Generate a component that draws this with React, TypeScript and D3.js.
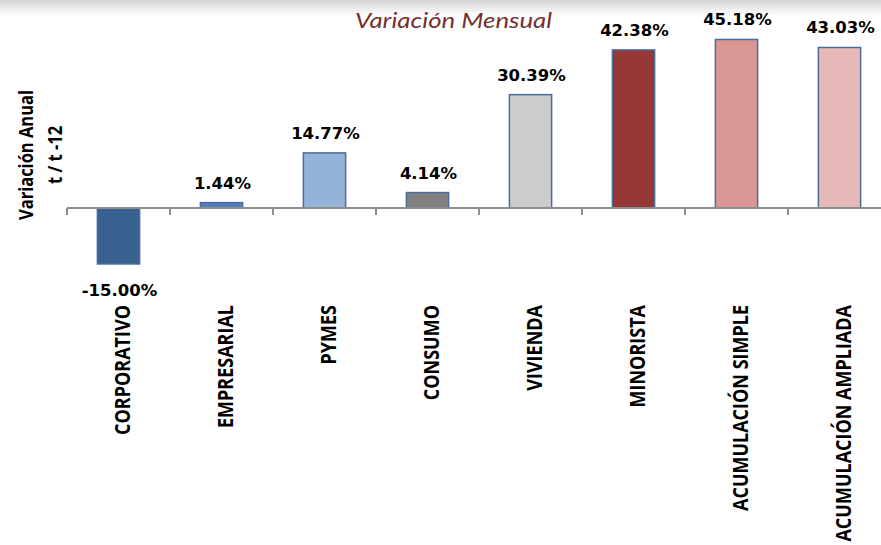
import React from "react";
import * as d3 from "d3";

// chart data
const categories = [
  "CORPORATIVO",
  "EMPRESARIAL",
  "PYMES",
  "CONSUMO",
  "VIVIENDA",
  "MINORISTA",
  "ACUMULACIÓN SIMPLE",
  "ACUMULACIÓN AMPLIADA"
];
const values = [-15.0, 1.44, 14.77, 4.14, 30.39, 42.38, 45.18, 43.03];
const barColors = [
  "#386192",
  "#4F81BD",
  "#95B3D7",
  "#808080",
  "#CCCCCC",
  "#953735",
  "#DA9694",
  "#E6B9B8"
];
const title = "Variación Mensual";
const yTitle = ["Variación Anual", "t / t -12"];

const width = 881;
const height = 545;
const labelFont = "'Open Sans', sans-serif";
const valueFont = "'DejaVu Sans', Verdana, sans-serif";

// excel style: plain hyphen for negatives
const fmt = (v: number) => d3.format(".2f")(v).replace("\u2212", "-") + "%";

export default function App() {
  const step = 103;
  const x = d3
    .scaleBand<string>()
    .domain(categories)
    .range([67, 67 + step * categories.length])
    .paddingInner(0.59)
    .paddingOuter(0.295);

  const y = d3
    .scaleLinear()
    .domain([-20, 50])
    .range([208 + 20 * 3.73, 208 - 50 * 3.73]);

  const y0 = y(0);
  const tickXs = d3.range(categories.length + 1).map(i => 67 + i * x.step());

  return (
    <svg
      width={width}
      height={height}
      style={{ position: "fixed", left: 0, top: 0, background: "#fff" }}
    >
      <defs>
        <linearGradient id="topband" x1="0" y1="0" x2="0" y2="1">
          <stop offset="0" stopColor="#d4d4d4" />
          <stop offset="0.45" stopColor="#e8e8e8" />
          <stop offset="1" stopColor="#ffffff" />
        </linearGradient>
      </defs>
      <rect x={0} y={0} width={width} height={16} fill="url(#topband)" />

      {/* title */}
      <text
        x={355}
        y={28}
        textLength={197}
        lengthAdjust="spacingAndGlyphs"
        fontFamily="Lato, sans-serif"
        fontStyle="italic"
        fontSize={21.5}
        fill="#75302F"
      >
        {title}
      </text>

      {/* y axis title */}
      <g fontFamily={labelFont} fontWeight="bold" fontSize={16.5} fill="#000" textAnchor="middle">
        <text transform={`translate(33,155) scale(1.15,1) rotate(-90)`}>{yTitle[0]}</text>
        <text transform={`translate(62,155) scale(1.15,1) rotate(-90)`}>{yTitle[1]}</text>
      </g>

      {/* bars */}
      {categories.map((c, i) => {
        const v = values[i];
        const top = Math.min(y(v), y0);
        const h = Math.abs(y(v) - y0);
        return (
          <rect
            key={c}
            x={x(c)}
            y={top}
            width={x.bandwidth()}
            height={h}
            fill={barColors[i]}
            stroke="#4A6C9B"
            strokeWidth={1.5}
          />
        );
      })}

      {/* axis */}
      <line x1={67} x2={width + 20} y1={y0} y2={y0} stroke="#8C8C8C" strokeWidth={2} />
      {tickXs.map((tx, i) => (
        <line key={i} x1={tx} x2={tx} y1={y0} y2={y0 + 7} stroke="#8C8C8C" strokeWidth={2} />
      ))}

      {/* value labels */}
      {categories.map((c, i) => {
        const v = values[i];
        const cx = (x(c) as number) + x.bandwidth() / 2;
        const ly = v >= 0 ? y(v) - 14 : y(v) + 32;
        return (
          <text
            key={c}
            x={cx + 1}
            y={ly}
            textAnchor="middle"
            fontFamily={valueFont}
            fontWeight="bold"
            fontSize={16.5}
            fill="#000"
          >
            {fmt(v)}
          </text>
        );
      })}

      {/* category labels */}
      {categories.map(c => {
        const cx = (x(c) as number) + x.bandwidth() / 2;
        return (
          <text
            key={c}
            transform={`translate(${cx + 11},305) scale(1.22,1) rotate(-90)`}
            textAnchor="end"
            fontFamily={labelFont}
            fontWeight="bold"
            fontSize={18}
            fill="#000"
          >
            {c}
          </text>
        );
      })}
    </svg>
  );
}
